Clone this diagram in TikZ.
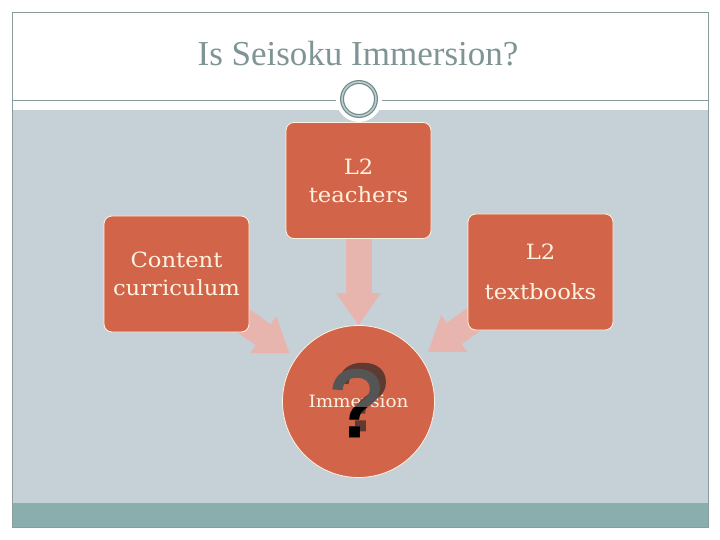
\documentclass[tikz,border=0pt]{standalone}
\usepackage{fontspec}
\setmainfont{DejaVu Serif}[FakeStretch=1.08]
\newfontfamily\titlefont{Liberation Serif}
\newfontfamily\qfont{Liberation Sans}[FakeBold=1.6]
\usetikzlibrary{arrows.meta}
\definecolor{slidebg}{HTML}{C5D1D7}
\definecolor{barteal}{HTML}{8AADAD}
\definecolor{framegray}{HTML}{8A9C9C}
\definecolor{titlegray}{HTML}{7F9494}
\definecolor{ringgray}{HTML}{6E8C8C}
\definecolor{boxfill}{HTML}{D2644A}
\definecolor{cream}{HTML}{FFF2E0}
\definecolor{arrowpink}{HTML}{E8B5AE}
\definecolor{qgray}{HTML}{555555}
\definecolor{qshadow}{HTML}{5E3A31}
\pgfdeclarelayer{backdrop}
\pgfdeclarelayer{arrowlayer}
\pgfsetlayers{backdrop,arrowlayer,main}
\tikzset{
  topic/.style={draw=cream, line width=0.8pt, fill=boxfill, rounded corners=8pt,
    minimum width=145pt, minimum height=116pt, inner sep=0pt, text=cream,
    align=center, font=\fontsize{21}{28}\selectfont},
  hub/.style={circle, draw=cream, line width=0.8pt, fill=boxfill, minimum size=152pt,
    inner sep=0pt, text=cream, font=\fontsize{17}{20}\selectfont},
  bigarrow/.style={draw=arrowpink, line width=26pt,
    -{Triangle[width=45pt,length=32pt,line width=0pt]}},
  qmark/.style={inner sep=0pt, font=\qfont\fontsize{96}{96}\selectfont}
}
\begin{document}
\begin{tikzpicture}[x=1pt,y=-1pt]
\useasboundingbox (0,0) rectangle (720,540);
% slide frame
\begin{pgfonlayer}{backdrop}
\fill[white] (0,0) rectangle (720,540);
\fill[slidebg] (12,110) rectangle (708,503);
\fill[barteal] (12,503) rectangle (708,527);
\draw[framegray] (12,12) rectangle (708,527);
\draw[framegray] (12,100) -- (708,100);
\end{pgfonlayer}
\node[anchor=base, text=titlegray, font=\titlefont\fontsize{35}{40}\selectfont] (title) at (358,66) {Is Seisoku Immersion?};
\fill[white] (359,99) circle (23);
\draw[ringgray, line width=1.2pt, double=ringgray!45, double distance=1.6pt] (359,99) circle (17);
% boxes
\node[topic] (teachers) at (358.5,180.5) {L2\\teachers};
\node[topic] (curriculum) at (176.5,274) {Content\\curriculum};
\node[topic] (textbooks) at (540.5,272) {L2\\[12pt]textbooks};
\node[hub] (immersion) at (358.5,401.5) {Immersion};
% arrows
\begin{pgfonlayer}{arrowlayer}
\draw[bigarrow] (teachers.south) -- (immersion.north);
\draw[bigarrow, shorten <=-36pt, shorten >=8pt] (curriculum) -- (immersion);
\draw[bigarrow, shorten <=-36pt, shorten >=9pt] (textbooks) -- (immersion);
\end{pgfonlayer}
% question mark
\node[qmark, text=qshadow] (qshade) at (362,397) {?};
\node[qmark, text=qgray] (qtop) at (356,403) {?};
\begin{scope}
\clip (300,407) rectangle (420,450);
\node[qmark, text=black] (qlow) at (356,403) {?};
\end{scope}
\end{tikzpicture}
\end{document}
